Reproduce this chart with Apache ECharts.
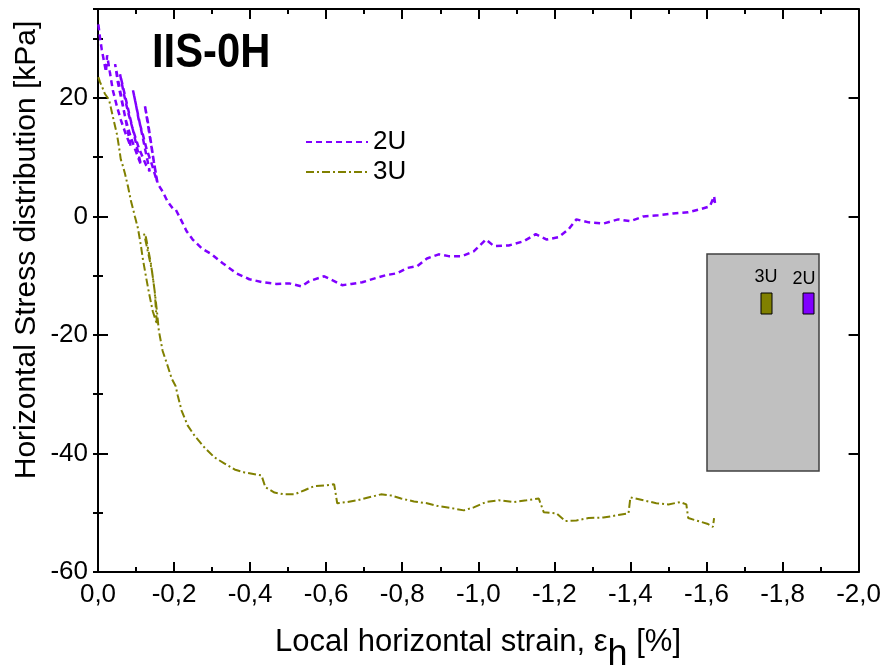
<!DOCTYPE html>
<html>
<head>
<meta charset="utf-8">
<title>IIS-0H horizontal stress distribution</title>
<script src="https://cdn.jsdelivr.net/npm/echarts@6/dist/echarts.min.js"></script>
<style>
  html, body { margin: 0; padding: 0; background: #ffffff; }
  #chart { width: 884px; height: 670px; }
</style>
</head>
<body>
<div id="chart"></div>
<script>
// Local horizontal strain [%] vs horizontal stress [kPa], gauge 2U
const data2U = [
  [-0.001, 32.4], [-0.005, 30.3], [-0.010, 28.1], [-0.016, 26.1], [-0.021, 24.4],
  [-0.024, 27.2], [-0.031, 24.4], [-0.039, 21.3], [-0.050, 18.5], [-0.060, 16.3], [-0.073, 13.9], [-0.086, 11.8],
  [-0.045, 25.7], [-0.052, 22.7], [-0.063, 19.3], [-0.073, 16.3], [-0.086, 13.4], [-0.100, 10.9], [-0.113, 8.7],
  [-0.058, 24.0], [-0.068, 20.7], [-0.079, 17.6], [-0.092, 14.6], [-0.107, 11.6], [-0.126, 8.7], [-0.136, 7.6],
  [-0.092, 21.3], [-0.100, 18.8], [-0.107, 16.3], [-0.118, 13.8], [-0.128, 11.3], [-0.142, 8.7], [-0.155, 5.9],
  [-0.123, 18.8], [-0.131, 16.0], [-0.139, 12.6], [-0.147, 9.2], [-0.155, 6.2], [-0.157, 5.5],
  [-0.170, 4.2], [-0.183, 2.5], [-0.197, 1.3], [-0.204, 1.2],
  [-0.220, -0.8], [-0.233, -2.5], [-0.249, -3.9], [-0.273, -5.4], [-0.299, -6.4], [-0.328, -7.9],
  [-0.364, -9.6], [-0.398, -10.6], [-0.432, -11.1], [-0.469, -11.4], [-0.503, -11.3], [-0.535, -11.8],
  [-0.556, -10.9], [-0.595, -10.1], [-0.621, -10.9], [-0.642, -11.6], [-0.666, -11.4], [-0.695, -11.1],
  [-0.731, -10.4], [-0.758, -9.9], [-0.786, -9.6], [-0.813, -8.7], [-0.839, -8.4], [-0.865, -7.1],
  [-0.896, -6.4], [-0.922, -6.7], [-0.957, -6.7],
  [-0.988, -5.9], [-1.020, -3.9], [-1.041, -5.0], [-1.080, -4.9], [-1.119, -4.2], [-1.151, -3.0],
  [-1.180, -3.9], [-1.211, -3.5], [-1.237, -2.2], [-1.258, -0.5], [-1.290, -1.0], [-1.329, -1.2],
  [-1.368, -0.5], [-1.400, -0.8], [-1.434, 0.0], [-1.473, 0.2], [-1.512, 0.5], [-1.552, 0.7],
  [-1.583, 1.2], [-1.609, 1.7], [-1.620, 3.4], [-1.623, 2.0]
];

// Local horizontal strain [%] vs horizontal stress [kPa], gauge 3U
const data3U = [
  [-0.001, 23.5], [-0.005, 22.7], [-0.010, 22.0], [-0.018, 20.7], [-0.029, 19.7], [-0.034, 18.3],
  [-0.042, 16.0], [-0.050, 13.8], [-0.055, 11.8], [-0.060, 9.6], [-0.066, 8.4], [-0.071, 7.2],
  [-0.079, 5.0], [-0.087, 2.5], [-0.092, 1.3], [-0.097, 0.0], [-0.105, -2.0], [-0.113, -5.0],
  [-0.118, -7.2], [-0.126, -10.1], [-0.134, -12.9], [-0.144, -16.0], [-0.155, -18.2],
  [-0.149, -12.6], [-0.139, -7.9], [-0.126, -3.5], [-0.121, -2.9],
  [-0.131, -5.9], [-0.142, -9.2], [-0.149, -12.6], [-0.155, -16.0], [-0.160, -19.3], [-0.170, -22.7],
  [-0.183, -25.2], [-0.194, -27.4], [-0.204, -28.6], [-0.210, -30.3],
  [-0.220, -32.8], [-0.236, -35.3], [-0.254, -37.0], [-0.280, -39.0], [-0.307, -40.7], [-0.333, -41.7],
  [-0.359, -42.7], [-0.385, -43.2], [-0.412, -43.5], [-0.430, -43.7], [-0.440, -45.7], [-0.464, -46.6],
  [-0.490, -46.9], [-0.516, -46.9], [-0.543, -46.2], [-0.569, -45.5], [-0.595, -45.4], [-0.621, -45.2],
  [-0.629, -48.4], [-0.655, -48.2], [-0.682, -47.9], [-0.713, -47.4], [-0.744, -46.9], [-0.771, -47.1],
  [-0.797, -47.6], [-0.831, -48.1], [-0.865, -48.4], [-0.896, -48.9], [-0.928, -49.2], [-0.962, -49.6],
  [-0.988, -49.1], [-1.020, -48.2], [-1.054, -47.9], [-1.093, -48.2], [-1.127, -47.9], [-1.159, -47.6],
  [-1.172, -49.9], [-1.206, -50.1], [-1.229, -51.4], [-1.258, -51.3], [-1.290, -50.9], [-1.329, -50.8],
  [-1.368, -50.4], [-1.395, -50.1], [-1.400, -47.4], [-1.434, -47.9], [-1.468, -48.4], [-1.500, -48.6],
  [-1.531, -48.2], [-1.547, -48.6], [-1.552, -50.9], [-1.578, -51.4], [-1.604, -51.9], [-1.617, -52.4],
  [-1.620, -50.9]
];

const seriesNames = ['2U', '3U'];
const seriesColors = ['#8000ff', '#808000'];
const xRange = [-2.0, 0.0];   // strain axis, drawn reversed
const yRange = [-60, 35];     // stress axis

const FONT = 'Liberation Sans, Arial, Helvetica, sans-serif';
const chart = echarts.init(document.getElementById('chart'), null, { renderer: 'canvas' });

const fmtComma = v => v.toFixed(1).replace('.', ',');

const baseX = {
  type: 'value', min: xRange[0], max: xRange[1], inverse: true, interval: 0.2,
  axisLine: { show: true, onZero: false, lineStyle: { color: '#000', width: 2 } },
  axisTick: { show: true, inside: true, length: 10, lineStyle: { color: '#000', width: 2 } },
  minorTick: { show: true, splitNumber: 2, length: 5, lineStyle: { color: '#000', width: 2 } },
  splitLine: { show: false }
};

const yMajor = pos => ({
  type: 'value', min: yRange[0], max: yRange[1], interval: 20, position: pos,
  axisLine: { show: true, onZero: false, lineStyle: { color: '#000', width: 2 } },
  axisTick: { show: true, inside: true, length: 10, lineStyle: { color: '#000', width: 2 } },
  splitLine: { show: false }
});
const yMinor = pos => ({
  type: 'value', min: yRange[0], max: yRange[1], interval: 10, position: pos,
  axisLine: { show: false },
  axisTick: { show: true, inside: true, length: 5, lineStyle: { color: '#000', width: 2 } },
  axisLabel: { show: false },
  splitLine: { show: false }
});

chart.setOption({
  animation: false,
  backgroundColor: '#ffffff',
  grid: { left: 98, right: 24, top: 9, bottom: 98, containLabel: false },
  xAxis: [
    Object.assign({}, baseX, {
      position: 'bottom',
      axisLabel: { show: true, margin: 10, fontSize: 26, color: '#000', fontFamily: FONT,
        formatter: fmtComma, showMaxLabel: true, showMinLabel: true }
    }),
    Object.assign({}, baseX, { position: 'top', axisLabel: { show: false } })
  ],
  yAxis: [
    Object.assign(yMajor('left'), {
      axisLabel: { show: true, margin: 10, fontSize: 26, color: '#000', fontFamily: FONT,
        formatter: v => (v % 20 === 0 ? String(v) : '') }
    }),
    yMinor('left'),
    Object.assign(yMajor('right'), { axisLabel: { show: false } }),
    yMinor('right')
  ],
  legend: {
    data: seriesNames,
    orient: 'vertical',
    left: 300, top: 124,
    itemWidth: 62, itemHeight: 14, itemGap: 4,
    textStyle: { fontSize: 26, color: '#000', fontFamily: FONT },
    // line-only keys: the marker drawn over the line sample is made invisible
    itemStyle: { opacity: 0, color: 'rgba(0,0,0,0)', borderWidth: 0, borderColor: 'rgba(0,0,0,0)' },
    selectedMode: false
  },
  series: [
    {
      name: seriesNames[0], type: 'line', xAxisIndex: 0, yAxisIndex: 0,
      data: data2U, symbol: 'none', showSymbol: false, smooth: false,
      color: seriesColors[0],
      lineStyle: { color: seriesColors[0], width: 2.5, type: [6, 4] },
      z: 3
    },
    {
      name: seriesNames[1], type: 'line', xAxisIndex: 0, yAxisIndex: 0,
      data: data3U, symbol: 'none', showSymbol: false, smooth: false,
      color: seriesColors[1],
      lineStyle: { color: seriesColors[1], width: 2, type: [8, 3, 2, 3] },
      z: 2
    }
  ],
  graphic: [
    // panel title
    { type: 'text', left: 152, top: 30, scaleX: 0.87,
      style: { text: 'IIS-0H', font: 'bold 48px ' + FONT, fill: '#000' } },
    // y axis title
    { type: 'text', x: 27, y: 250, rotation: Math.PI / 2,
      style: { text: 'Horizontal Stress distribution [kPa]', font: '30px ' + FONT, fill: '#000',
        align: 'center', verticalAlign: 'middle' } },
    // x axis title with epsilon_h
    { type: 'text', x: 478, y: 647,
      style: {
        text: '{a|Local horizontal strain, }{e|ε}{h|h}{a| [%]}',
        align: 'center', verticalAlign: 'middle', fill: '#000',
        rich: {
          a: { fontSize: 31, fontFamily: FONT, lineHeight: 40, verticalAlign: 'top', fill: '#000' },
          e: { fontSize: 31, fontFamily: FONT, lineHeight: 40, verticalAlign: 'top', fill: '#000' },
          h: { fontSize: 36, fontFamily: FONT, lineHeight: 36, padding: [10, 0, 0, 0], verticalAlign: 'top', fill: '#000' }
        }
      } },
    // gauge layout sketch
    { type: 'rect', shape: { x: 707, y: 254, width: 112, height: 217 },
      style: { fill: '#c0c0c0', stroke: '#404040', lineWidth: 1.5 } },
    { type: 'text', x: 766, y: 277,
      style: { text: '3U', font: '18px ' + FONT, fill: '#000', align: 'center', verticalAlign: 'middle' } },
    { type: 'text', x: 804, y: 279,
      style: { text: '2U', font: '18px ' + FONT, fill: '#000', align: 'center', verticalAlign: 'middle' } },
    { type: 'rect', shape: { x: 761, y: 293, width: 11, height: 21 },
      style: { fill: seriesColors[1], stroke: '#000', lineWidth: 1 } },
    { type: 'rect', shape: { x: 803, y: 293, width: 11, height: 21 },
      style: { fill: seriesColors[0], stroke: '#000', lineWidth: 1 } }
  ]
});
</script>
</body>
</html>
